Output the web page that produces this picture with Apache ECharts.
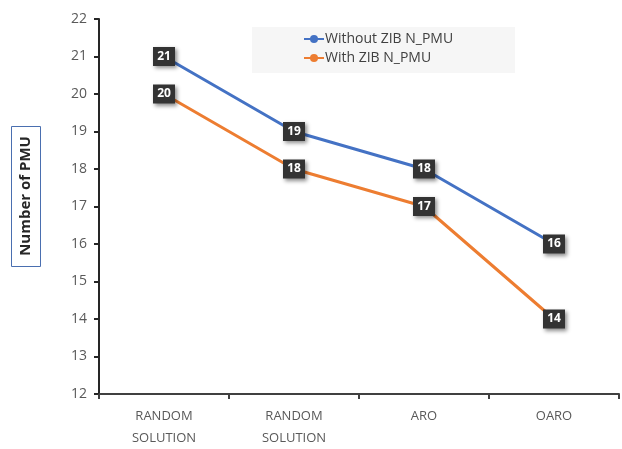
<!DOCTYPE html>
<html>
<head>
<meta charset="utf-8">
<script src="https://cdn.jsdelivr.net/npm/echarts@6/dist/echarts.min.js"></script>
<style>
  html, body { margin: 0; padding: 0; background: #fff; }
  #chart { width: 622px; height: 449px; }
</style>
</head>
<body>
<div id="chart"></div>
<script>
// Methods compared along the x axis
const categories = ['RANDOM\nSOLUTION', 'RANDOM\nSOLUTION', 'ARO', 'OARO'];
// PMU counts per method
const withoutZib = [21, 19, 18, 16];
const withZib = [20, 18, 17, 14];
const seriesNames = ['Without ZIB N_PMU', 'With ZIB N_PMU'];
const yTicks = [12, 13, 14, 15, 16, 17, 18, 19, 20, 21, 22];

const chart = echarts.init(document.getElementById('chart'));

const labelStyle = {
  show: true,
  position: 'inside',
  color: '#fff',
  fontWeight: 'bold',
  fontSize: 12,
  fontFamily: 'Open Sans',
  backgroundColor: '#333333',
  padding: [4, 4, 3, 4],
  width: 14,
  align: 'center',
  shadowColor: 'rgba(0,0,0,0.45)',
  shadowBlur: 4,
  shadowOffsetX: 2,
  shadowOffsetY: 2
};

chart.setOption({
  animation: false,
  backgroundColor: '#fff',
  grid: { left: 99, right: 3, top: 19, bottom: 52 },
  graphic: [
    {
      type: 'rect',
      left: 252, top: 27,
      shape: { width: 263, height: 46 },
      style: { fill: '#f6f6f6' },
      z: 0
    },
    {
      type: 'rect',
      left: 11, top: 126,
      shape: { width: 29, height: 140 },
      style: { fill: '#fff', stroke: '#4a6fb0', lineWidth: 1 },
      z: 1
    },
    {
      type: 'text',
      x: 26, y: 196,
      rotation: Math.PI / 2,
      style: {
        text: 'Number of PMU',
        fill: '#262626',
        font: 'bold 15px "Open Sans"',
        align: 'center',
        verticalAlign: 'middle'
      },
      z: 2
    }
  ],
  legend: {
    left: 298, top: 27,
    orient: 'vertical',
    itemGap: 5,
    itemWidth: 20,
    itemHeight: 10,
    data: seriesNames,
    textStyle: { color: '#404040', fontSize: 14, fontFamily: 'Open Sans', padding: [0, 0, 0, -4] }
  },
  xAxis: {
    type: 'category',
    data: categories,
    boundaryGap: true,
    axisLine: { lineStyle: { color: '#404040', width: 2 } },
    axisTick: { show: true, length: 5, lineStyle: { color: '#404040', width: 2 } },
    axisLabel: {
      color: '#595959', fontSize: 13, fontFamily: 'Open Sans',
      lineHeight: 22, margin: 11, interval: 0
    },
    splitLine: { show: false }
  },
  yAxis: {
    type: 'value',
    min: yTicks[0], max: yTicks[yTicks.length - 1], interval: 1,
    axisLine: { show: true, lineStyle: { color: '#262626', width: 2 } },
    axisTick: { show: true, length: 5, lineStyle: { color: '#262626', width: 2 } },
    axisLabel: { color: '#595959', fontSize: 14, fontFamily: 'Open Sans', margin: 12 },
    splitLine: { show: false }
  },
  series: [
    {
      name: seriesNames[0],
      type: 'line',
      data: withoutZib,
      symbol: 'circle', symbolSize: 6,
      itemStyle: { color: '#4472c4' },
      lineStyle: { color: '#4472c4', width: 3 },
      label: labelStyle,
      z: 3
    },
    {
      name: seriesNames[1],
      type: 'line',
      data: withZib,
      symbol: 'circle', symbolSize: 6,
      itemStyle: { color: '#ed7d31' },
      lineStyle: { color: '#ed7d31', width: 3 },
      label: labelStyle,
      z: 3
    }
  ]
});
</script>
</body>
</html>
